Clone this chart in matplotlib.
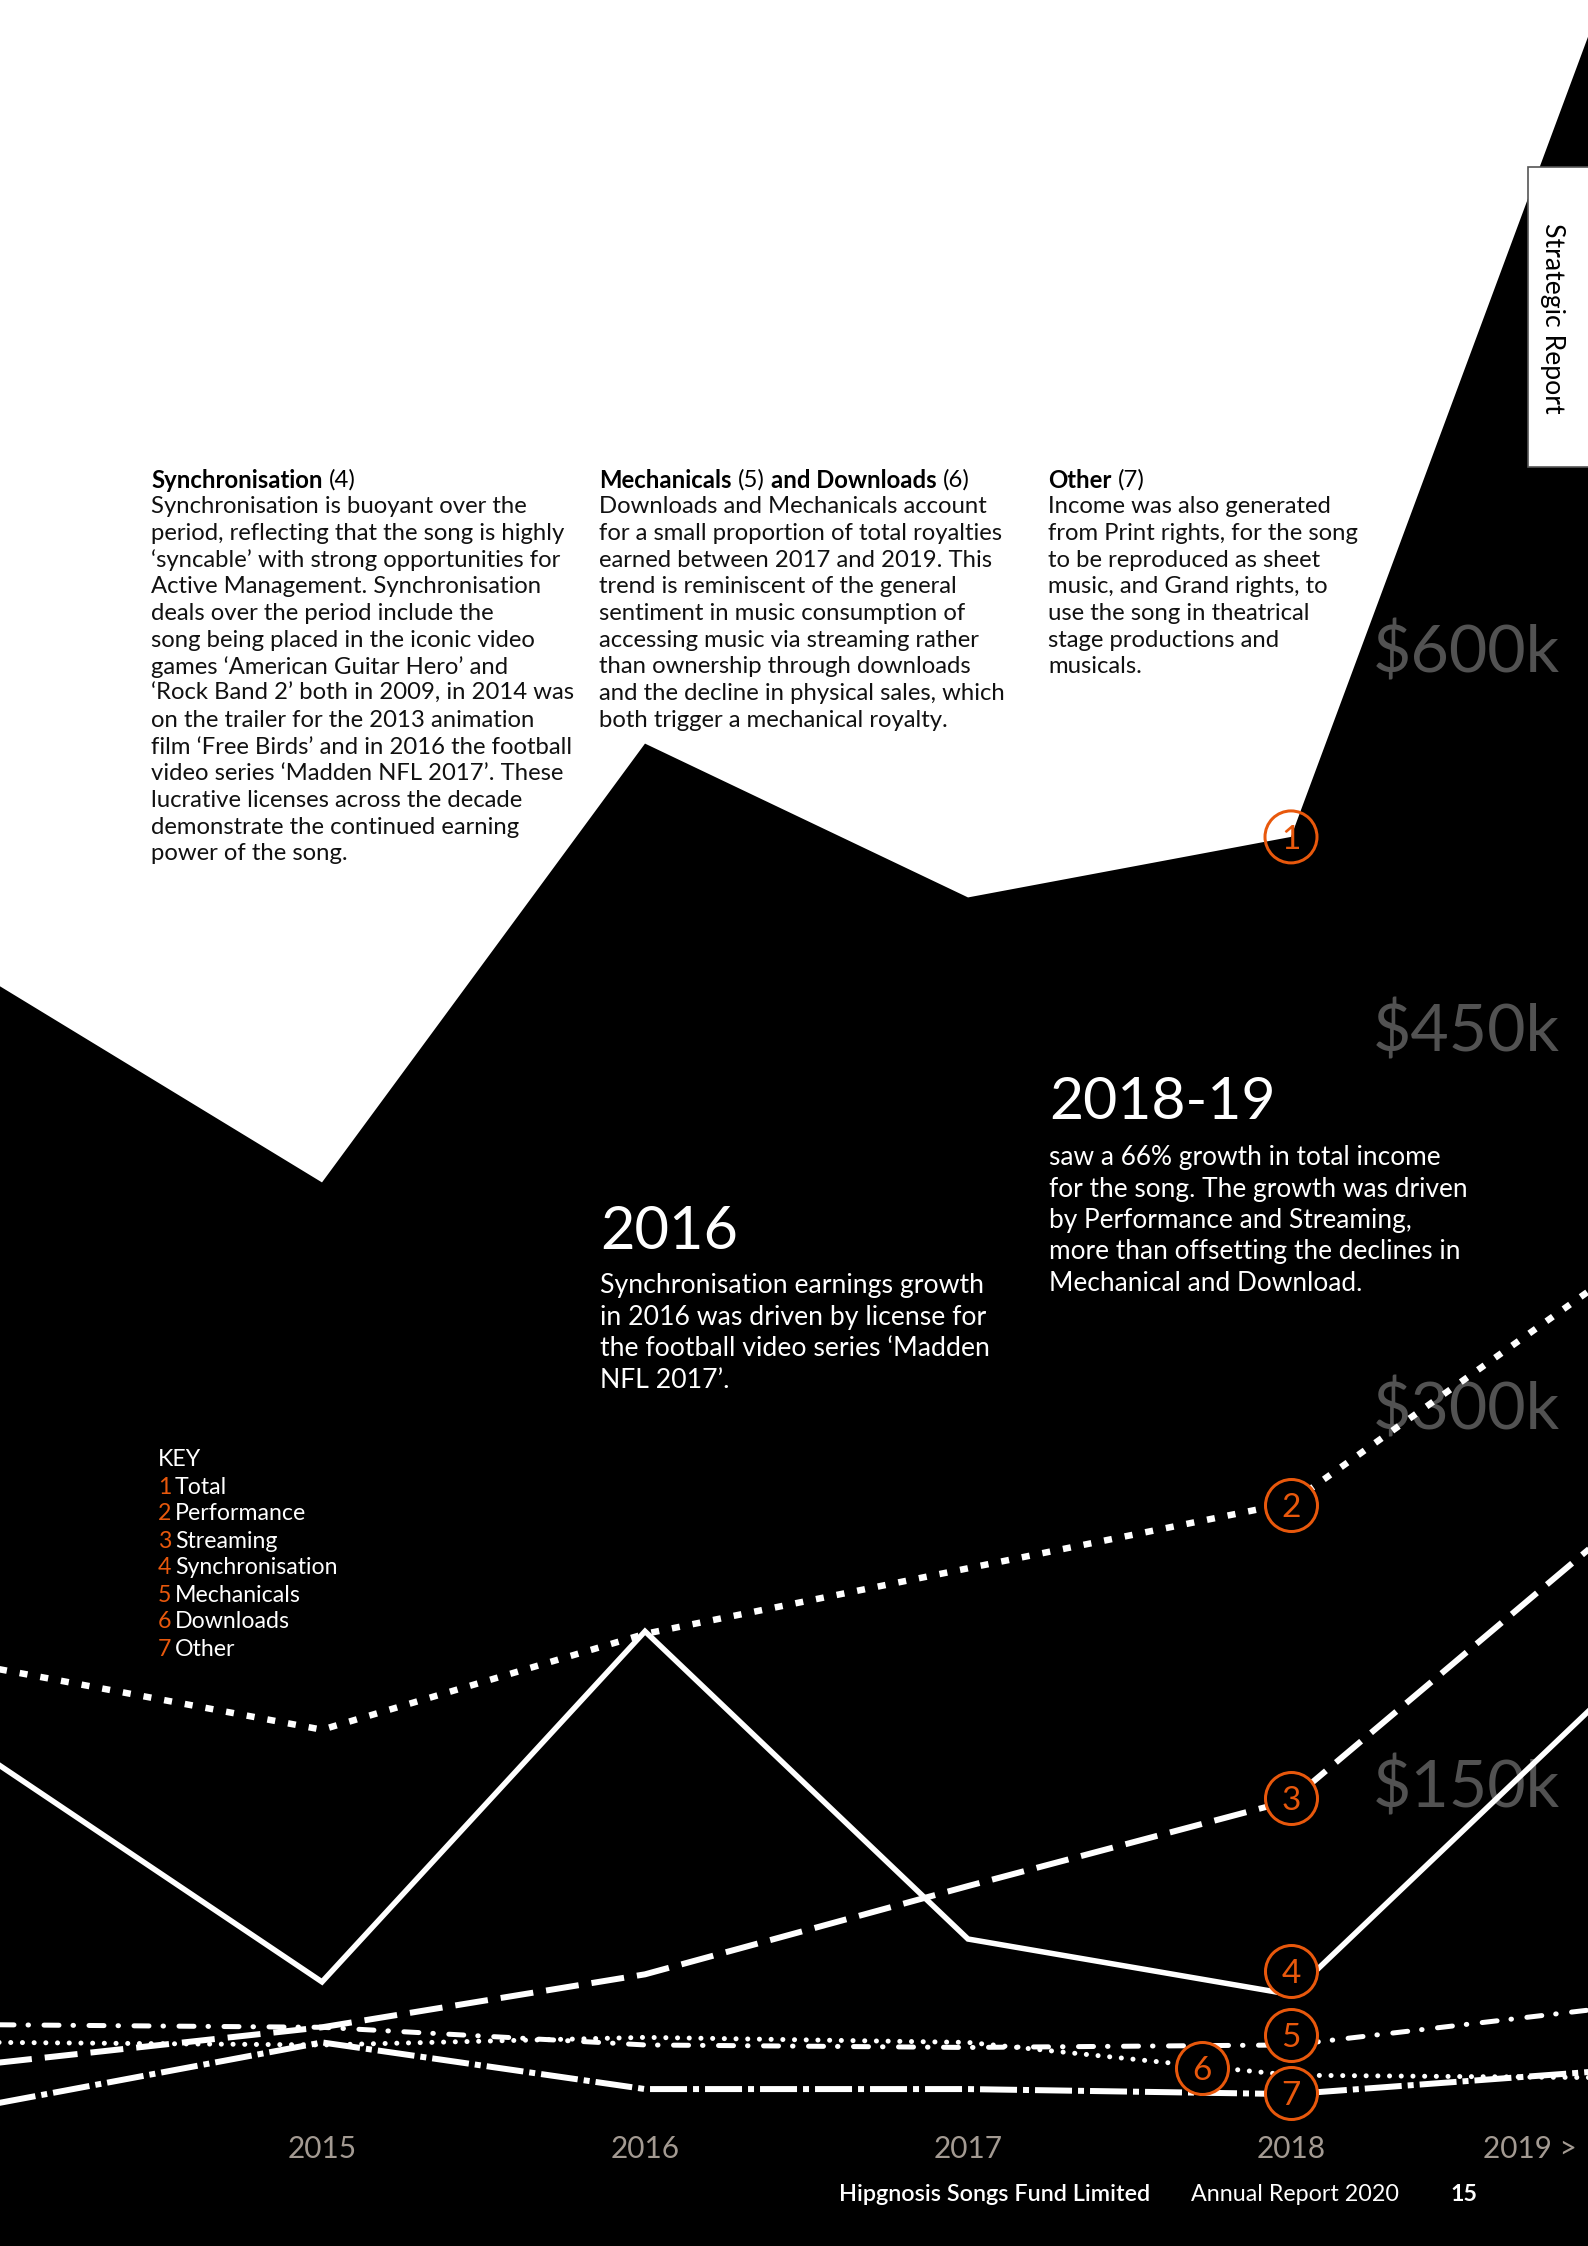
import matplotlib
matplotlib.use('Agg')
import matplotlib.pyplot as plt
from matplotlib.patches import Rectangle
from matplotlib.transforms import blended_transform_factory

# ---------------- data ($k) ----------------
years = [2014, 2015, 2016, 2017, 2018, 2019]
total = [468, 390, 564, 503, 527, 872]
performance = [197, 173, 211, 237, 263, 354]
streaming = [41, 55, 76, 111, 145, 253]
synchronisation = [159, 73, 212, 90, 68, 190]
mechanicals = [56, 55, 48, 47, 48, 63]
downloads = [49, 48, 51, 49, 36, 35]
other = [25, 49, 30.5, 30.5, 28.5, 38]

key_names = ['Total', 'Performance', 'Streaming', 'Synchronisation',
             'Mechanicals', 'Downloads', 'Other']
key_numbers = ['1', '2', '3', '4', '5', '6', '7']
marker_x = [2018, 2018, 2018, 2018, 2018, 2017.724, 2018]
marker_y = [527, 262, 146, 77.3, 51.9, 38.9, 28.9]

y_ticks = [600, 450, 300, 150]
y_tick_labels = ['\\$600k', '\\$450k', '\\$300k', '\\$150k']
x_ticks = [2015, 2016, 2017, 2018]
x_tick_labels = ['2015', '2016', '2017', '2018']
last_year_label = '2019 >'

# ---------------- setup ----------------
W, H, DPI = 1588, 2246, 100
plt.rcParams['lines.scale_dashes'] = False
plt.rcParams['font.family'] = ['Lato', 'DejaVu Sans']
ORANGE = '#E8580C'
PX = 72.0 / DPI  # points per pixel

fig = plt.figure(figsize=(W / DPI, H / DPI), dpi=DPI)
fig.patch.set_facecolor('white')
R = fig.canvas.get_renderer()

ax = fig.add_axes([0, 0, 1, 1])
ax.set_xlim(2015 - 322 / 323, 2015 + (W - 322) / 323)
ax.set_ylim(-80 / 2.522, (H - 80) / 2.522)
ax.axis('off')


def width_px(s, size, weight='normal'):
    t = fig.text(0, 0, s, fontsize=size, fontweight=weight)
    w = t.get_window_extent(R).width
    t.remove()
    return w


def fit(s, target, weight='normal'):
    return 20 * target / width_px(s, 20, weight)


def ptext(x, y, s, **kw):
    return fig.text(x / W, 1 - y / H, s, **kw)


# ---------------- total area ----------------
ax.fill_between(years, total, -200, color='black', lw=0, zorder=1)

# ---------------- y labels ----------------
ylab_fs = fit('\\$150k', 188)
ytrans = blended_transform_factory(fig.transFigure, ax.transData)
for v, lab in zip(y_ticks, y_tick_labels):
    ax.text(1560 / W, v, lab, transform=ytrans, ha='right', va='center',
            fontsize=ylab_fs, color='#525252', zorder=2)

# ---------------- series lines ----------------
ax.plot(years, performance, color='white', lw=6.5 * PX, zorder=3,
        dashes=(8 * PX, 13 * PX), dash_capstyle='butt')
ax.plot(years, streaming, color='white', lw=6 * PX, zorder=3,
        dashes=(33 * PX, 13 * PX), dash_capstyle='butt')
ax.plot(years, synchronisation, color='white', lw=5.5 * PX, zorder=3,
        solid_joinstyle='miter')
ax.plot(years, mechanicals, color='white', lw=5 * PX, zorder=3,
        dashes=(15 * PX, 14 * PX, 0.5 * PX, 15.5 * PX), dash_capstyle='round')
ax.plot(years, downloads, color='white', lw=5 * PX, zorder=3,
        dashes=(0.1 * PX, 11.6 * PX), dash_capstyle='round')
ax.plot(years, other, color='white', lw=6 * PX, zorder=3,
        dashes=(37 * PX, 6 * PX, 6 * PX, 6 * PX), dash_capstyle='butt')

# ---------------- numbered circles ----------------
circ_d = 52 * PX
faces = ['none'] + ['black'] * 6
for mx, my, num, fc in zip(marker_x, marker_y, key_numbers, faces):
    ax.scatter([mx], [my], s=circ_d ** 2, facecolors=fc, edgecolors=ORANGE,
               linewidths=3 * PX, zorder=4)
    ax.text(mx, my, num, ha='center', va='center_baseline', color=ORANGE,
            fontsize=24, zorder=5)

# ---------------- year labels ----------------
xtrans = blended_transform_factory(ax.transData, fig.transFigure)
yr_fs = fit('2015', 69)
for xv, lab in zip(x_ticks, x_tick_labels):
    ax.text(xv, 1 - 2158 / H, lab, transform=xtrans, ha='center', va='baseline',
            fontsize=yr_fs, color='#a39a92', zorder=2)
ptext(1577, 2158, last_year_label, ha='right', va='baseline', fontsize=yr_fs,
      color='#a39a92')

# ---------------- top text columns ----------------
body_fs = fit('period, reflecting that the song is highly', 415)
LS = 26.7
space_w = width_px('a a', body_fs) - width_px('aa', body_fs)


def heading(x, y, parts):
    for s, wgt in parts:
        t = ptext(x, y, s, fontsize=body_fs, fontweight=wgt, color='black',
                  va='center_baseline')
        x = t.get_window_extent(R).x1 + space_w


def body(x, y0, lines):
    for i, ln in enumerate(lines):
        ptext(x, y0 + i * LS, ln, fontsize=body_fs, color='#111111',
              va='center_baseline')


col1 = ["Synchronisation is buoyant over the",
        "period, reflecting that the song is highly",
        "\u2018syncable\u2019 with strong opportunities for",
        "Active Management. Synchronisation",
        "deals over the period include the",
        "song being placed in the iconic video",
        "games \u2018American Guitar Hero\u2019 and",
        "\u2018Rock Band 2\u2019 both in 2009, in 2014 was",
        "on the trailer for the 2013 animation",
        "film \u2018Free Birds\u2019 and in 2016 the football",
        "video series \u2018Madden NFL 2017\u2019. These",
        "lucrative licenses across the decade",
        "demonstrate the continued earning",
        "power of the song."]
col2 = ["Downloads and Mechanicals account",
        "for a small proportion of total royalties",
        "earned between 2017 and 2019. This",
        "trend is reminiscent of the general",
        "sentiment in music consumption of",
        "accessing music via streaming rather",
        "than ownership through downloads",
        "and the decline in physical sales, which",
        "both trigger a mechanical royalty."]
col3 = ["Income was also generated",
        "from Print rights, for the song",
        "to be reproduced as sheet",
        "music, and Grand rights, to",
        "use the song in theatrical",
        "stage productions and",
        "musicals."]

heading(151, 478, [('Synchronisation', 'bold'), ('(4)', 'normal')])
body(151, 478 + LS, col1)
heading(599, 478, [('Mechanicals', 'bold'), ('(5)', 'normal'),
                   ('and Downloads', 'bold'), ('(6)', 'normal')])
body(599, 478 + LS, col2)
heading(1048, 478, [('Other', 'bold'), ('(7)', 'normal')])
body(1048, 478 + LS, col3)

# ---------------- callouts ----------------
big_fs = fit('2016', 138)
ptext(600, 1249, '2016', fontsize=big_fs, color='white', va='baseline')
t16_fs = fit('Synchronisation earnings growth', 384)
for i, ln in enumerate(["Synchronisation earnings growth",
                        "in 2016 was driven by license for",
                        "the football video series \u2018Madden",
                        "NFL 2017\u2019."]):
    ptext(600, 1283 + i * 31.7, ln, fontsize=t16_fs, color='white',
          va='center_baseline')

big2_fs = fit('2018-19', 227)
ptext(1049, 1119, '2018-19', fontsize=big2_fs, color='white', va='baseline')
t18_fs = fit('for the song. The growth was driven', 417)
for i, ln in enumerate(["saw a 66% growth in total income",
                        "for the song. The growth was driven",
                        "by Performance and Streaming,",
                        "more than offsetting the declines in",
                        "Mechanical and Download."]):
    ptext(1049, 1155 + i * 31.5, ln, fontsize=t18_fs, color='white',
          va='center_baseline')

# ---------------- key ----------------
key_fs = fit('Synchronisation', 163)
ptext(158, 1457, 'KEY', fontsize=key_fs, color='white', va='center_baseline')
for i, (n, name) in enumerate(zip(key_numbers, key_names)):
    yk = 1485 + i * 27.0
    ptext(158, yk, n, fontsize=key_fs, color=ORANGE, va='center_baseline')
    ptext(175, yk, name, fontsize=key_fs, color='white', va='center_baseline')

# ---------------- side tab ----------------
fig.patches.append(Rectangle((1528 / W, 1 - 467 / H), 80 / W, 300 / H,
                             transform=fig.transFigure, facecolor='white',
                             edgecolor='#555555', lw=1.2, zorder=10))
tab_fs = fit('Strategic Report', 191)
ptext(1553, 318, 'Strategic Report', rotation=270, ha='center', va='center',
      fontsize=tab_fs, color='black', zorder=11)

# ---------------- footer ----------------
f1 = fit('Hipgnosis Songs Fund Limited', 311, 'semibold')
ptext(839, 2201, 'Hipgnosis Songs Fund Limited', fontsize=f1,
      fontweight='semibold', color='white', va='baseline')
f2 = fit('Annual Report 2020', 208)
ptext(1191, 2201, 'Annual Report 2020', fontsize=f2, color='white',
      va='baseline')
ptext(1450, 2201, '15', fontsize=f2, fontweight='bold', color='white',
      va='baseline')

fig.savefig('out.png', dpi=DPI, facecolor='white')
